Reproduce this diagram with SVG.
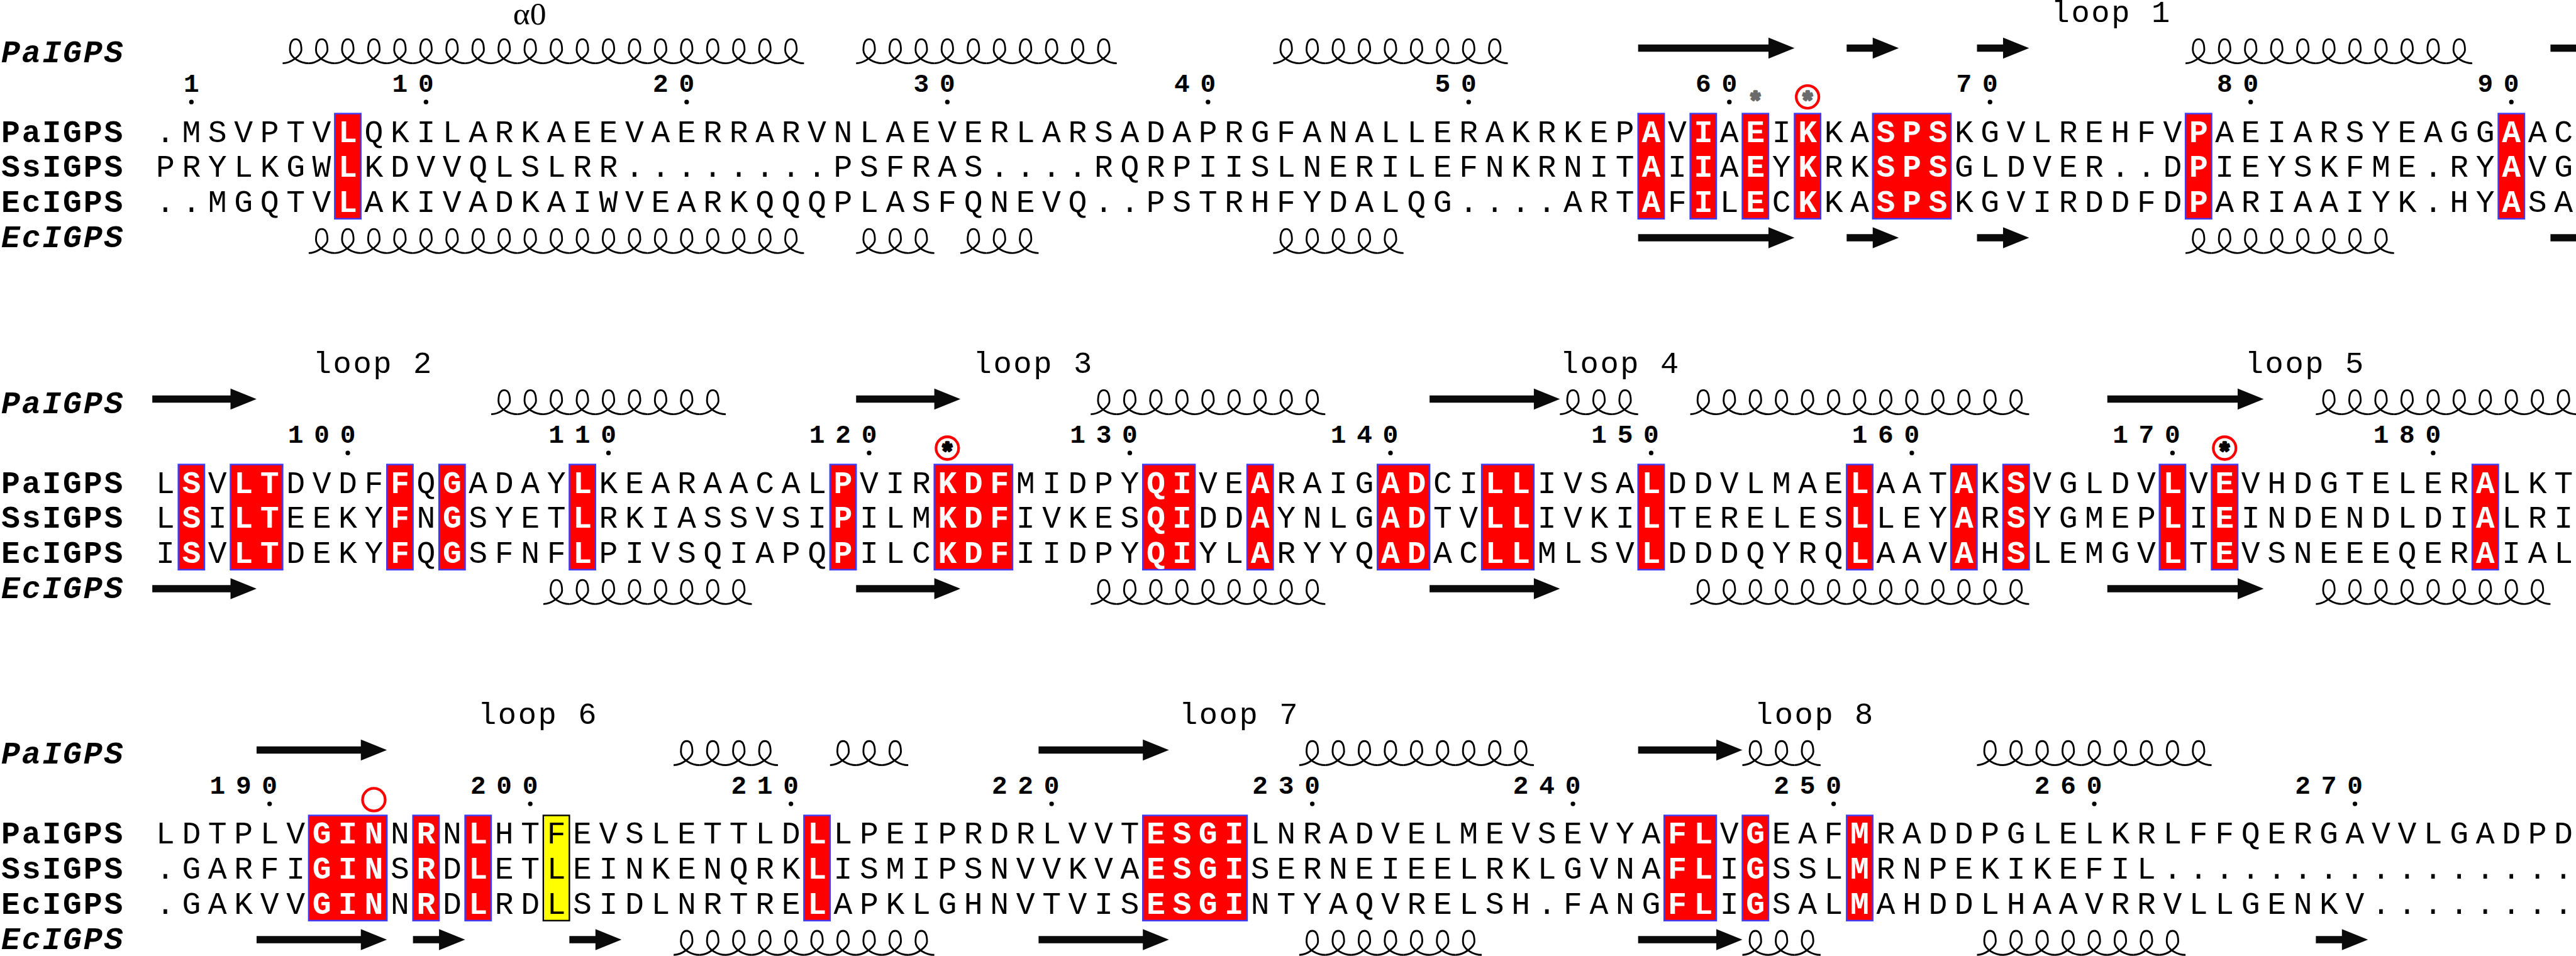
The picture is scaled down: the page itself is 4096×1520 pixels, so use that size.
<svg xmlns="http://www.w3.org/2000/svg" width="4096" height="1520" viewBox="0 0 4096 1520">
<defs>
<style>
.lb{font-family:'Liberation Mono',monospace;font-weight:bold;font-size:52px;letter-spacing:3px}
.li{font-family:'Liberation Mono',monospace;font-weight:bold;font-style:italic;font-size:52px;letter-spacing:3px}
.sq{font-family:'Liberation Mono',monospace;font-size:52px;letter-spacing:12.11px}
.wt{font-family:'Liberation Mono',monospace;font-weight:bold;font-size:52px;letter-spacing:12.11px;fill:#fff}
.nm{font-family:'Liberation Mono',monospace;font-weight:bold;font-size:43px;letter-spacing:17.51px}
.lp{font-family:'Liberation Mono',monospace;font-size:51px;letter-spacing:2.7px;text-anchor:middle}
.al{font-family:'Liberation Serif',serif;font-size:54px;text-anchor:middle}
.as{font-family:'Liberation Mono',monospace;font-weight:bold;font-size:40px;text-anchor:middle;stroke-width:3.5;stroke-linejoin:round}
.ag{fill:#6b6b6b;stroke:#6b6b6b}
.ak{fill:#000;stroke:#000}
.rb{fill:#ff0000;stroke:#3c3cff;stroke-width:2.5}
.yb{fill:#ffff00;stroke:#000;stroke-width:2.5}
.hx{fill:none;stroke:#000;stroke-width:3}
.st{fill:#0a0a0a}
.ci{fill:none;stroke:#ff0000;stroke-width:4.5}
</style>
<path id="h1" class="hx" d="M0,0c13,0 31.18,-13 31.18,-22c0,-14 -4.33,-18 -9.53,-18c-5.2,0 -9.53,4 -9.53,18c0,13 18.18,22 31.18,22"/>
<g id="h2"><use href="#h1"/><use href="#h1" x="43.31"/></g>
<g id="h4"><use href="#h2"/><use href="#h2" x="86.62"/></g>
<g id="h8"><use href="#h4"/><use href="#h4" x="173.24"/></g>
<g id="h16"><use href="#h8"/><use href="#h8" x="346.48"/></g>
<polygon id="s1" class="st" points="0,-6 43.31,-6 43.31,-17.5 86.62,0 43.31,17.5 43.31,6 0,6"/>
<polygon id="s3" class="st" points="0,-6 129.93,-6 129.93,-17.5 173.24,0 129.93,17.5 129.93,6 0,6"/>
<polygon id="s4" class="st" points="0,-6 173.24,-6 173.24,-17.5 216.55,0 173.24,17.5 173.24,6 0,6"/>
<polygon id="s5" class="st" points="0,-6 216.55,-6 216.55,-17.5 259.86,0 216.55,17.5 216.55,6 0,6"/>
</defs>
<rect width="4096" height="1520" fill="#fff"/>
<g transform="scale(0.95701)">

<g id="block1">
<g id="b1-labels">
<text class="li" x="2" y="103">PaIGPS</text>
<text class="lb" x="2" y="235.7">PaIGPS</text>
<text class="lb" x="2" y="293.9">SsIGPS</text>
<text class="lb" x="2" y="352.1">EcIGPS</text>
<text class="li" x="2" y="410.5">EcIGPS</text>
<text class="al" x="880" y="41">α0</text>
<text class="lp" x="3508" y="37">loop 1</text>
</g>
<g id="b1-numbers">
<text class="nm" x="305.11" y="153">1</text>
<text class="nm" x="651.59" y="153">10</text>
<text class="nm" x="1084.69" y="153">20</text>
<text class="nm" x="1517.79" y="153">30</text>
<text class="nm" x="1950.89" y="153">40</text>
<text class="nm" x="2383.99" y="153">50</text>
<text class="nm" x="2817.09" y="153">60</text>
<text class="nm" x="3250.19" y="153">70</text>
<text class="nm" x="3683.29" y="153">80</text>
<text class="nm" x="4116.39" y="153">90</text>
<g fill="#000">
<circle cx="318.01" cy="169.5" r="3.8"/><circle cx="707.8" cy="169.5" r="3.8"/><circle cx="1140.9" cy="169.5" r="3.8"/><circle cx="1574" cy="169.5" r="3.8"/><circle cx="2007.1" cy="169.5" r="3.8"/><circle cx="2440.2" cy="169.5" r="3.8"/><circle cx="2873.3" cy="169.5" r="3.8"/><circle cx="3306.4" cy="169.5" r="3.8"/><circle cx="3739.5" cy="169.5" r="3.8"/><circle cx="4172.6" cy="169.5" r="3.8"/>
</g>
</g>
<g id="b1-ss-top">
<g transform="translate(469.6,105.2)"><use href="#h16"/><use href="#h4" x="692.96"/></g>
<g transform="translate(1422.42,105.2)"><use href="#h8"/><use href="#h2" x="346.48"/></g>
<g transform="translate(2115.38,105.2)"><use href="#h8"/><use href="#h1" x="346.48"/></g>
<g transform="translate(3631.23,105.2)"><use href="#h8"/><use href="#h2" x="346.48"/><use href="#h1" x="433.1"/></g>
<use href="#s5" x="2721.72" y="80"/>
<use href="#s1" x="3068.2" y="80"/>
<use href="#s1" x="3284.75" y="80"/>
<rect class="st" x="4237.57" y="74" width="43.43" height="12"/>
</g>
<g id="b1-ss-bottom">
<g transform="translate(512.91,420.5)"><use href="#h16"/><use href="#h2" x="692.96"/><use href="#h1" x="779.58"/></g>
<g transform="translate(1422.42,420.5)"><use href="#h2"/><use href="#h1" x="86.62"/></g>
<g transform="translate(1595.66,420.5)"><use href="#h2"/><use href="#h1" x="86.62"/></g>
<g transform="translate(2115.38,420.5)"><use href="#h4"/><use href="#h1" x="173.24"/></g>
<g transform="translate(3631.23,420.5)"><use href="#h8"/></g>
<use href="#s5" x="2721.72" y="395"/>
<use href="#s1" x="3068.2" y="395"/>
<use href="#s1" x="3284.75" y="395"/>
<rect class="st" x="4237.57" y="389" width="43.43" height="12"/>
</g>
<g id="b1-boxes">
<rect class="rb" x="556.22" y="188.7" width="43.31" height="174.8"/>
<rect class="rb" x="2721.72" y="188.7" width="43.31" height="174.8"/>
<rect class="rb" x="2808.34" y="188.7" width="43.31" height="174.8"/>
<rect class="rb" x="2894.96" y="188.7" width="43.31" height="174.8"/>
<rect class="rb" x="2981.58" y="188.7" width="43.31" height="174.8"/>
<rect class="rb" x="3111.51" y="188.7" width="129.93" height="174.8"/>
<rect class="rb" x="3631.23" y="188.7" width="43.31" height="174.8"/>
<rect class="rb" x="4150.95" y="188.7" width="43.31" height="174.8"/>
</g>
<g id="b1-seq">
<text class="sq" x="259.1" y="235.7">.MSVPTV</text>
<text class="sq" x="605.58" y="235.7">QKILARKAEEVAERRARVNLAEVERLARSADAPRGFANALLERAKRKEP</text>
<text class="sq" x="2771.08" y="235.7">V</text>
<text class="sq" x="2857.7" y="235.7">A</text>
<text class="sq" x="2944.32" y="235.7">I</text>
<text class="sq" x="3030.94" y="235.7">KA</text>
<text class="sq" x="3247.49" y="235.7">KGVLREHFV</text>
<text class="sq" x="3680.59" y="235.7">AEIARSYEAGG</text>
<text class="sq" x="4200.31" y="235.7">AC</text>
<text class="sq" x="259.1" y="293.9">PRYLKGW</text>
<text class="sq" x="605.58" y="293.9">KDVVQLSLRR........PSFRAS....RQRPIISLNERILEFNKRNIT</text>
<text class="sq" x="2771.08" y="293.9">I</text>
<text class="sq" x="2857.7" y="293.9">A</text>
<text class="sq" x="2944.32" y="293.9">Y</text>
<text class="sq" x="3030.94" y="293.9">RK</text>
<text class="sq" x="3247.49" y="293.9">GLDVER..D</text>
<text class="sq" x="3680.59" y="293.9">IEYSKFME.RY</text>
<text class="sq" x="4200.31" y="293.9">VG</text>
<text class="sq" x="259.1" y="352.1">..MGQTV</text>
<text class="sq" x="605.58" y="352.1">AKIVADKAIWVEARKQQQPLASFQNEVQ..PSTRHFYDALQG....ART</text>
<text class="sq" x="2771.08" y="352.1">F</text>
<text class="sq" x="2857.7" y="352.1">L</text>
<text class="sq" x="2944.32" y="352.1">C</text>
<text class="sq" x="3030.94" y="352.1">KA</text>
<text class="sq" x="3247.49" y="352.1">KGVIRDDFD</text>
<text class="sq" x="3680.59" y="352.1">ARIAAIYK.HY</text>
<text class="sq" x="4200.31" y="352.1">SA</text>
</g>
<g id="b1-conserved">
<text class="wt" x="562.27" y="235.7">L</text><text class="wt" x="2727.77" y="235.7">A</text><text class="wt" x="2814.39" y="235.7">I</text><text class="wt" x="2901.01" y="235.7">E</text><text class="wt" x="2987.63" y="235.7">K</text><text class="wt" x="3117.56" y="235.7">SPS</text><text class="wt" x="3637.28" y="235.7">P</text><text class="wt" x="4157" y="235.7">A</text>
<text class="wt" x="562.27" y="293.9">L</text><text class="wt" x="2727.77" y="293.9">A</text><text class="wt" x="2814.39" y="293.9">I</text><text class="wt" x="2901.01" y="293.9">E</text><text class="wt" x="2987.63" y="293.9">K</text><text class="wt" x="3117.56" y="293.9">SPS</text><text class="wt" x="3637.28" y="293.9">P</text><text class="wt" x="4157" y="293.9">A</text>
<text class="wt" x="562.27" y="352.1">L</text><text class="wt" x="2727.77" y="352.1">A</text><text class="wt" x="2814.39" y="352.1">I</text><text class="wt" x="2901.01" y="352.1">E</text><text class="wt" x="2987.63" y="352.1">K</text><text class="wt" x="3117.56" y="352.1">SPS</text><text class="wt" x="3637.28" y="352.1">P</text><text class="wt" x="4157" y="352.1">A</text>
</g>
<g id="b1-marks">
<text class="as ag" x="2916.61" y="180.4">*</text>
<circle class="ci" cx="3003.23" cy="161" r="18.8"/>
<text class="as ag" x="3003.23" y="180.4">*</text>
</g>
</g>

<g id="block2">
<g id="b2-labels">
<text class="li" x="2" y="686">PaIGPS</text>
<text class="lb" x="2" y="818.7">PaIGPS</text>
<text class="lb" x="2" y="876.9">SsIGPS</text>
<text class="lb" x="2" y="935.1">EcIGPS</text>
<text class="li" x="2" y="993.5">EcIGPS</text>
<text class="lp" x="620" y="620">loop 2</text>
<text class="lp" x="1717" y="620">loop 3</text>
<text class="lp" x="2692" y="620">loop 4</text>
<text class="lp" x="3830" y="620">loop 5</text>
</g>
<g id="b2-numbers">
<text class="nm" x="478.35" y="736">100</text>
<text class="nm" x="911.45" y="736">110</text>
<text class="nm" x="1344.55" y="736">120</text>
<text class="nm" x="1777.65" y="736">130</text>
<text class="nm" x="2210.75" y="736">140</text>
<text class="nm" x="2643.85" y="736">150</text>
<text class="nm" x="3076.95" y="736">160</text>
<text class="nm" x="3510.05" y="736">170</text>
<text class="nm" x="3943.15" y="736">180</text>
<g fill="#000">
<circle cx="577.87" cy="752.5" r="3.8"/><circle cx="1010.97" cy="752.5" r="3.8"/><circle cx="1444.07" cy="752.5" r="3.8"/><circle cx="1877.17" cy="752.5" r="3.8"/><circle cx="2310.27" cy="752.5" r="3.8"/><circle cx="2743.37" cy="752.5" r="3.8"/><circle cx="3176.47" cy="752.5" r="3.8"/><circle cx="3609.57" cy="752.5" r="3.8"/><circle cx="4042.67" cy="752.5" r="3.8"/>
</g>
</g>
<g id="b2-ss-top">
<g transform="translate(816.08,688.2)"><use href="#h8"/><use href="#h1" x="346.48"/></g>
<g transform="translate(1812.21,688.2)"><use href="#h8"/><use href="#h1" x="346.48"/></g>
<g transform="translate(2591.79,688.2)"><use href="#h2"/><use href="#h1" x="86.62"/></g>
<g transform="translate(2808.34,688.2)"><use href="#h8"/><use href="#h4" x="346.48"/><use href="#h1" x="519.72"/></g>
<g transform="translate(3847.78,688.2)"><use href="#h8"/><use href="#h2" x="346.48"/></g>
<use href="#s3" x="253.05" y="663"/>
<use href="#s3" x="1422.42" y="663"/>
<use href="#s4" x="2375.24" y="663"/>
<use href="#s5" x="3501.3" y="663"/>
</g>
<g id="b2-ss-bottom">
<g transform="translate(902.7,1003.5)"><use href="#h8"/></g>
<g transform="translate(1812.21,1003.5)"><use href="#h8"/><use href="#h1" x="346.48"/></g>
<g transform="translate(2808.34,1003.5)"><use href="#h8"/><use href="#h4" x="346.48"/><use href="#h1" x="519.72"/></g>
<g transform="translate(3847.78,1003.5)"><use href="#h8"/><use href="#h1" x="346.48"/></g>
<use href="#s3" x="253.05" y="978"/>
<use href="#s3" x="1422.42" y="978"/>
<use href="#s4" x="2375.24" y="978"/>
<use href="#s5" x="3501.3" y="978"/>
</g>
<g id="b2-boxes">
<rect class="rb" x="296.36" y="771.7" width="43.31" height="174.8"/>
<rect class="rb" x="382.98" y="771.7" width="86.62" height="174.8"/>
<rect class="rb" x="642.84" y="771.7" width="43.31" height="174.8"/>
<rect class="rb" x="729.46" y="771.7" width="43.31" height="174.8"/>
<rect class="rb" x="946.01" y="771.7" width="43.31" height="174.8"/>
<rect class="rb" x="1379.11" y="771.7" width="43.31" height="174.8"/>
<rect class="rb" x="1552.35" y="771.7" width="129.93" height="174.8"/>
<rect class="rb" x="1898.83" y="771.7" width="86.62" height="174.8"/>
<rect class="rb" x="2072.07" y="771.7" width="43.31" height="174.8"/>
<rect class="rb" x="2288.62" y="771.7" width="86.62" height="174.8"/>
<rect class="rb" x="2461.86" y="771.7" width="86.62" height="174.8"/>
<rect class="rb" x="2721.72" y="771.7" width="43.31" height="174.8"/>
<rect class="rb" x="3068.2" y="771.7" width="43.31" height="174.8"/>
<rect class="rb" x="3241.44" y="771.7" width="43.31" height="174.8"/>
<rect class="rb" x="3328.06" y="771.7" width="43.31" height="174.8"/>
<rect class="rb" x="3587.92" y="771.7" width="43.31" height="174.8"/>
<rect class="rb" x="3674.54" y="771.7" width="43.31" height="174.8"/>
<rect class="rb" x="4107.64" y="771.7" width="43.31" height="174.8"/>
</g>
<g id="b2-seq">
<text class="sq" x="259.1" y="818.7">L</text><text class="sq" x="345.72" y="818.7">V</text><text class="sq" x="475.65" y="818.7">DVDF</text><text class="sq" x="692.2" y="818.7">Q</text><text class="sq" x="778.82" y="818.7">ADAY</text><text class="sq" x="995.37" y="818.7">KEARAACAL</text><text class="sq" x="1428.47" y="818.7">VIR</text><text class="sq" x="1688.33" y="818.7">MIDPY</text><text class="sq" x="1991.5" y="818.7">VE</text><text class="sq" x="2121.43" y="818.7">RAIG</text><text class="sq" x="2381.29" y="818.7">CI</text><text class="sq" x="2554.53" y="818.7">IVSA</text><text class="sq" x="2771.08" y="818.7">DDVLMAE</text><text class="sq" x="3117.56" y="818.7">AAT</text><text class="sq" x="3290.8" y="818.7">K</text><text class="sq" x="3377.42" y="818.7">VGLDV</text><text class="sq" x="3637.28" y="818.7">V</text><text class="sq" x="3723.9" y="818.7">VHDGTELER</text><text class="sq" x="4157" y="818.7">LKT</text>
<text class="sq" x="259.1" y="876.9">L</text><text class="sq" x="345.72" y="876.9">I</text><text class="sq" x="475.65" y="876.9">EEKY</text><text class="sq" x="692.2" y="876.9">N</text><text class="sq" x="778.82" y="876.9">SYET</text><text class="sq" x="995.37" y="876.9">RKIASSVSI</text><text class="sq" x="1428.47" y="876.9">ILM</text><text class="sq" x="1688.33" y="876.9">IVKES</text><text class="sq" x="1991.5" y="876.9">DD</text><text class="sq" x="2121.43" y="876.9">YNLG</text><text class="sq" x="2381.29" y="876.9">TV</text><text class="sq" x="2554.53" y="876.9">IVKI</text><text class="sq" x="2771.08" y="876.9">TERELES</text><text class="sq" x="3117.56" y="876.9">LEY</text><text class="sq" x="3290.8" y="876.9">R</text><text class="sq" x="3377.42" y="876.9">YGMEP</text><text class="sq" x="3637.28" y="876.9">I</text><text class="sq" x="3723.9" y="876.9">INDENDLDI</text><text class="sq" x="4157" y="876.9">LRI</text>
<text class="sq" x="259.1" y="935.1">I</text><text class="sq" x="345.72" y="935.1">V</text><text class="sq" x="475.65" y="935.1">DEKY</text><text class="sq" x="692.2" y="935.1">Q</text><text class="sq" x="778.82" y="935.1">SFNF</text><text class="sq" x="995.37" y="935.1">PIVSQIAPQ</text><text class="sq" x="1428.47" y="935.1">ILC</text><text class="sq" x="1688.33" y="935.1">IIDPY</text><text class="sq" x="1991.5" y="935.1">YL</text><text class="sq" x="2121.43" y="935.1">RYYQ</text><text class="sq" x="2381.29" y="935.1">AC</text><text class="sq" x="2554.53" y="935.1">MLSV</text><text class="sq" x="2771.08" y="935.1">DDDQYRQ</text><text class="sq" x="3117.56" y="935.1">AAV</text><text class="sq" x="3290.8" y="935.1">H</text><text class="sq" x="3377.42" y="935.1">LEMGV</text><text class="sq" x="3637.28" y="935.1">T</text><text class="sq" x="3723.9" y="935.1">VSNEEEQER</text><text class="sq" x="4157" y="935.1">IAL</text>
</g>
<g id="b2-conserved">
<text class="wt" x="302.41" y="818.7">S</text><text class="wt" x="389.03" y="818.7">LT</text><text class="wt" x="648.89" y="818.7">F</text><text class="wt" x="735.51" y="818.7">G</text><text class="wt" x="952.06" y="818.7">L</text><text class="wt" x="1385.16" y="818.7">P</text><text class="wt" x="1558.4" y="818.7">KDF</text><text class="wt" x="1904.88" y="818.7">QI</text><text class="wt" x="2078.12" y="818.7">A</text><text class="wt" x="2294.67" y="818.7">AD</text><text class="wt" x="2467.91" y="818.7">LL</text><text class="wt" x="2727.77" y="818.7">L</text><text class="wt" x="3074.25" y="818.7">L</text><text class="wt" x="3247.49" y="818.7">A</text><text class="wt" x="3334.11" y="818.7">S</text><text class="wt" x="3593.97" y="818.7">L</text><text class="wt" x="3680.59" y="818.7">E</text><text class="wt" x="4113.69" y="818.7">A</text>
<text class="wt" x="302.41" y="876.9">S</text><text class="wt" x="389.03" y="876.9">LT</text><text class="wt" x="648.89" y="876.9">F</text><text class="wt" x="735.51" y="876.9">G</text><text class="wt" x="952.06" y="876.9">L</text><text class="wt" x="1385.16" y="876.9">P</text><text class="wt" x="1558.4" y="876.9">KDF</text><text class="wt" x="1904.88" y="876.9">QI</text><text class="wt" x="2078.12" y="876.9">A</text><text class="wt" x="2294.67" y="876.9">AD</text><text class="wt" x="2467.91" y="876.9">LL</text><text class="wt" x="2727.77" y="876.9">L</text><text class="wt" x="3074.25" y="876.9">L</text><text class="wt" x="3247.49" y="876.9">A</text><text class="wt" x="3334.11" y="876.9">S</text><text class="wt" x="3593.97" y="876.9">L</text><text class="wt" x="3680.59" y="876.9">E</text><text class="wt" x="4113.69" y="876.9">A</text>
<text class="wt" x="302.41" y="935.1">S</text><text class="wt" x="389.03" y="935.1">LT</text><text class="wt" x="648.89" y="935.1">F</text><text class="wt" x="735.51" y="935.1">G</text><text class="wt" x="952.06" y="935.1">L</text><text class="wt" x="1385.16" y="935.1">P</text><text class="wt" x="1558.4" y="935.1">KDF</text><text class="wt" x="1904.88" y="935.1">QI</text><text class="wt" x="2078.12" y="935.1">A</text><text class="wt" x="2294.67" y="935.1">AD</text><text class="wt" x="2467.91" y="935.1">LL</text><text class="wt" x="2727.77" y="935.1">L</text><text class="wt" x="3074.25" y="935.1">L</text><text class="wt" x="3247.49" y="935.1">A</text><text class="wt" x="3334.11" y="935.1">S</text><text class="wt" x="3593.97" y="935.1">L</text><text class="wt" x="3680.59" y="935.1">E</text><text class="wt" x="4113.69" y="935.1">A</text>
</g>
<g id="b2-marks">
<circle class="ci" cx="1574" cy="744.5" r="18.8"/>
<text class="as ak" x="1574" y="763.4">*</text>
<circle class="ci" cx="3696.19" cy="744.5" r="18.8"/>
<text class="as ak" x="3696.19" y="763.4">*</text>
</g>
</g>

<g id="block3">
<g id="b3-labels">
<text class="li" x="2" y="1269">PaIGPS</text>
<text class="lb" x="2" y="1401.7">PaIGPS</text>
<text class="lb" x="2" y="1459.9">SsIGPS</text>
<text class="lb" x="2" y="1518.1">EcIGPS</text>
<text class="li" x="2" y="1576.5">EcIGPS</text>
<text class="lp" x="894" y="1203">loop 6</text>
<text class="lp" x="2059" y="1203">loop 7</text>
<text class="lp" x="3015" y="1203">loop 8</text>
</g>
<g id="b3-numbers">
<text class="nm" x="348.42" y="1319">190</text>
<text class="nm" x="781.52" y="1319">200</text>
<text class="nm" x="1214.62" y="1319">210</text>
<text class="nm" x="1647.72" y="1319">220</text>
<text class="nm" x="2080.82" y="1319">230</text>
<text class="nm" x="2513.92" y="1319">240</text>
<text class="nm" x="2947.02" y="1319">250</text>
<text class="nm" x="3380.12" y="1319">260</text>
<text class="nm" x="3813.22" y="1319">270</text>
<g fill="#000">
<circle cx="447.94" cy="1335.5" r="3.8"/><circle cx="881.04" cy="1335.5" r="3.8"/><circle cx="1314.14" cy="1335.5" r="3.8"/><circle cx="1747.24" cy="1335.5" r="3.8"/><circle cx="2180.34" cy="1335.5" r="3.8"/><circle cx="2613.44" cy="1335.5" r="3.8"/><circle cx="3046.54" cy="1335.5" r="3.8"/><circle cx="3479.64" cy="1335.5" r="3.8"/><circle cx="3912.74" cy="1335.5" r="3.8"/>
</g>
</g>
<g id="b3-ss-top">
<g transform="translate(1119.25,1271.2)"><use href="#h4"/></g>
<g transform="translate(1379.11,1271.2)"><use href="#h2"/><use href="#h1" x="86.62"/></g>
<g transform="translate(2158.69,1271.2)"><use href="#h8"/><use href="#h1" x="346.48"/></g>
<g transform="translate(2894.96,1271.2)"><use href="#h2"/><use href="#h1" x="86.62"/></g>
<g transform="translate(3284.75,1271.2)"><use href="#h8"/><use href="#h1" x="346.48"/></g>
<use href="#s4" x="426.29" y="1246"/>
<use href="#s4" x="1725.59" y="1246"/>
<use href="#s3" x="2721.72" y="1246"/>
</g>
<g id="b3-ss-bottom">
<g transform="translate(1119.25,1586.5)"><use href="#h8"/><use href="#h2" x="346.48"/></g>
<g transform="translate(2158.69,1586.5)"><use href="#h4"/><use href="#h2" x="173.24"/><use href="#h1" x="259.86"/></g>
<g transform="translate(2894.96,1586.5)"><use href="#h2"/><use href="#h1" x="86.62"/></g>
<g transform="translate(3284.75,1586.5)"><use href="#h8"/></g>
<use href="#s4" x="426.29" y="1561"/>
<use href="#s1" x="686.15" y="1561"/>
<use href="#s1" x="946.01" y="1561"/>
<use href="#s4" x="1725.59" y="1561"/>
<use href="#s3" x="2721.72" y="1561"/>
<use href="#s1" x="3847.78" y="1561"/>
</g>
<g id="b3-boxes">
<rect class="yb" x="902.7" y="1354.7" width="43.31" height="174.8"/>
<rect class="rb" x="512.91" y="1354.7" width="129.93" height="174.8"/>
<rect class="rb" x="686.15" y="1354.7" width="43.31" height="174.8"/>
<rect class="rb" x="772.77" y="1354.7" width="43.31" height="174.8"/>
<rect class="rb" x="1335.8" y="1354.7" width="43.31" height="174.8"/>
<rect class="rb" x="1898.83" y="1354.7" width="173.24" height="174.8"/>
<rect class="rb" x="2765.03" y="1354.7" width="86.62" height="174.8"/>
<rect class="rb" x="2894.96" y="1354.7" width="43.31" height="174.8"/>
<rect class="rb" x="3068.2" y="1354.7" width="43.31" height="174.8"/>
</g>
<g id="b3-seq">
<text class="sq" x="259.1" y="1401.7">LDTPLV</text><text class="sq" x="648.89" y="1401.7">N</text><text class="sq" x="735.51" y="1401.7">N</text><text class="sq" x="822.13" y="1401.7">HTFEVSLETTLD</text><text class="sq" x="1385.16" y="1401.7">LPEIPRDRLVVT</text><text class="sq" x="2078.12" y="1401.7">LNRADVELMEVSEVYA</text><text class="sq" x="2857.7" y="1401.7">V</text><text class="sq" x="2944.32" y="1401.7">EAF</text><text class="sq" x="3117.56" y="1401.7">RADDPGLELKRLFFQERGAVVLGADPD</text>
<text class="sq" x="259.1" y="1459.9">.GARFI</text><text class="sq" x="648.89" y="1459.9">S</text><text class="sq" x="735.51" y="1459.9">D</text><text class="sq" x="822.13" y="1459.9">ETLEINKENQRK</text><text class="sq" x="1385.16" y="1459.9">ISMIPSNVVKVA</text><text class="sq" x="2078.12" y="1459.9">SERNEIEELRKLGVNA</text><text class="sq" x="2857.7" y="1459.9">I</text><text class="sq" x="2944.32" y="1459.9">SSL</text><text class="sq" x="3117.56" y="1459.9">RNPEKIKEFIL................</text>
<text class="sq" x="259.1" y="1518.1">.GAKVV</text><text class="sq" x="648.89" y="1518.1">N</text><text class="sq" x="735.51" y="1518.1">D</text><text class="sq" x="822.13" y="1518.1">RDLSIDLNRTRE</text><text class="sq" x="1385.16" y="1518.1">APKLGHNVTVIS</text><text class="sq" x="2078.12" y="1518.1">NTYAQVRELSH.FANG</text><text class="sq" x="2857.7" y="1518.1">I</text><text class="sq" x="2944.32" y="1518.1">SAL</text><text class="sq" x="3117.56" y="1518.1">AHDDLHAAVRRVLLGENKV........</text>
</g>
<g id="b3-conserved">
<text class="wt" x="518.96" y="1401.7">GIN</text><text class="wt" x="692.2" y="1401.7">R</text><text class="wt" x="778.82" y="1401.7">L</text><text class="wt" x="1341.85" y="1401.7">L</text><text class="wt" x="1904.88" y="1401.7">ESGI</text><text class="wt" x="2771.08" y="1401.7">FL</text><text class="wt" x="2901.01" y="1401.7">G</text><text class="wt" x="3074.25" y="1401.7">M</text>
<text class="wt" x="518.96" y="1459.9">GIN</text><text class="wt" x="692.2" y="1459.9">R</text><text class="wt" x="778.82" y="1459.9">L</text><text class="wt" x="1341.85" y="1459.9">L</text><text class="wt" x="1904.88" y="1459.9">ESGI</text><text class="wt" x="2771.08" y="1459.9">FL</text><text class="wt" x="2901.01" y="1459.9">G</text><text class="wt" x="3074.25" y="1459.9">M</text>
<text class="wt" x="518.96" y="1518.1">GIN</text><text class="wt" x="692.2" y="1518.1">R</text><text class="wt" x="778.82" y="1518.1">L</text><text class="wt" x="1341.85" y="1518.1">L</text><text class="wt" x="1904.88" y="1518.1">ESGI</text><text class="wt" x="2771.08" y="1518.1">FL</text><text class="wt" x="2901.01" y="1518.1">G</text><text class="wt" x="3074.25" y="1518.1">M</text>
</g>
<g id="b3-marks">
<circle class="ci" cx="621.18" cy="1328.5" r="18.8"/>
</g>
</g>

</g>
</svg>
